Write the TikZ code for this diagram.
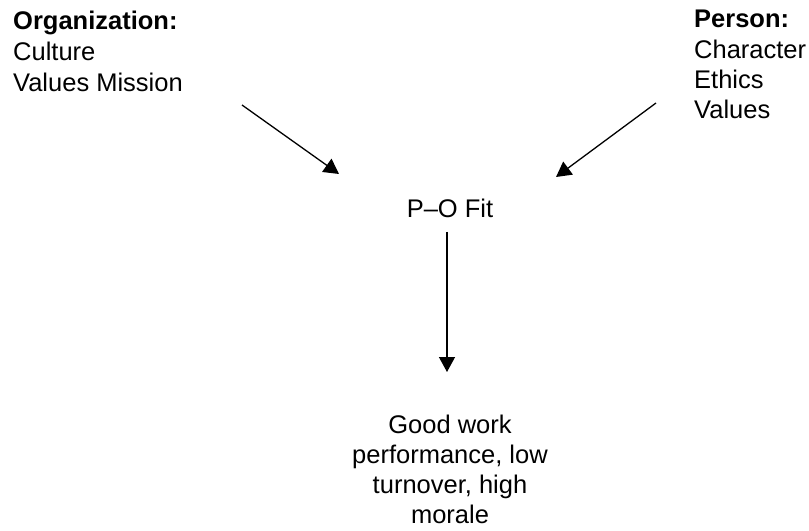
\documentclass[tikz,border=0pt]{standalone}
\usepackage{fontspec}
\setmainfont{Liberation Sans}
\usetikzlibrary{arrows.meta}
\begin{document}
\begin{tikzpicture}[x=1bp,y=-1bp,
  txt/.style={inner sep=0pt,font=\fontsize{25.5bp}{30bp}\selectfont},
  arr/.style={line width=1.3bp,-{Triangle[length=15bp,width=16bp]}}]
\useasboundingbox[fill=white] (0,0) rectangle (809,531);
\node[txt,anchor=base west] (orgh) at (13,30) {\bfseries Organization:};
\node[txt,anchor=base west] (org1) at (13,61) {Culture};
\node[txt,anchor=base west] (org2) at (13,92) {Values Mission};
\node[txt,anchor=base west] (perh) at (694,28) {\bfseries Person:};
\node[txt,anchor=base west] (per1) at (694,59) {Character};
\node[txt,anchor=base west] (per2) at (694,89) {Ethics};
\node[txt,anchor=base west] (per3) at (694,119) {Values};
\node[txt,anchor=base] (fit) at (450,218) {P--O Fit};
\node[txt,anchor=base] (out1) at (450,433) {Good work};
\node[txt,anchor=base] (out2) at (450,463) {performance, low};
\node[txt,anchor=base] (out3) at (450,493) {turnover, high};
\node[txt,anchor=base] (out4) at (450,523) {morale};
\coordinate (s1) at (242,105);
\coordinate (e1) at (339,174);
\coordinate (s2) at (656,103);
\coordinate (e2) at (556,177);
\coordinate (s3) at (447,232);
\coordinate (e3) at (447,372);
\draw[arr] (s1) -- (e1);
\draw[arr] (s2) -- (e2);
\draw[arr] (s3) -- (e3);
\end{tikzpicture}
\end{document}
